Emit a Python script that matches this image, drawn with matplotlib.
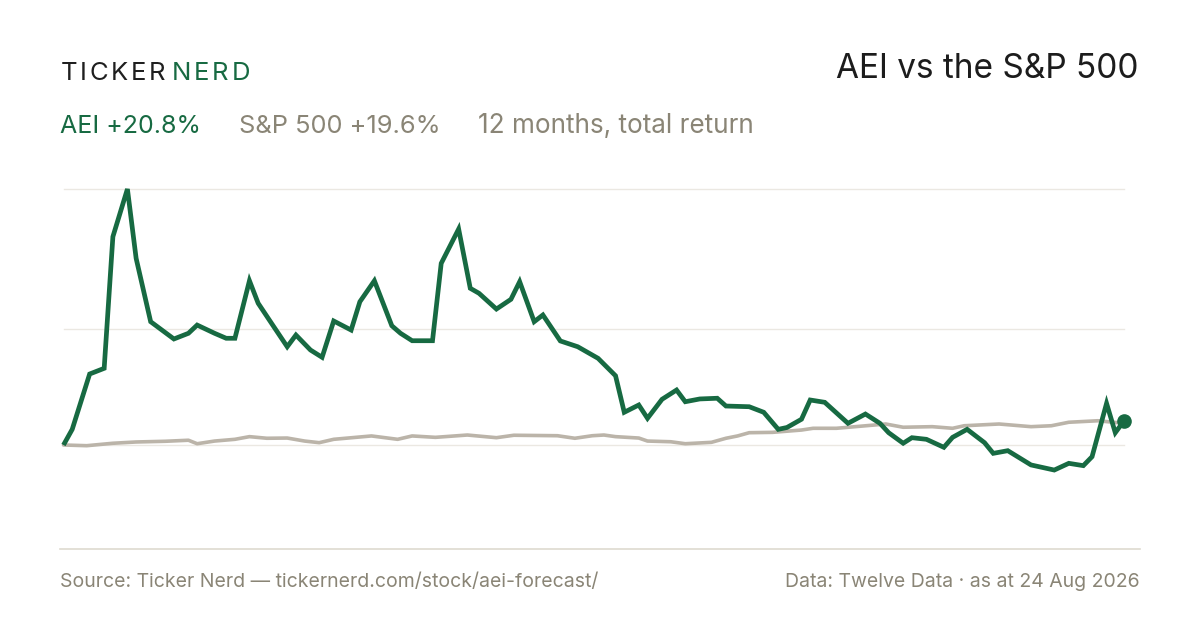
import matplotlib
matplotlib.use("Agg")
import matplotlib.pyplot as plt
from matplotlib.lines import Line2D

# AEI total return, % vs start (day offset within the 12 months)
aei_days = [0, 3, 9, 14, 17, 22, 25, 30, 38, 43, 46, 52, 56, 59, 64, 67, 72, 77, 80, 85,
            89, 93, 99, 102, 107, 113, 116, 120, 127, 130, 136, 140, 143, 149, 154, 157,
            162, 165, 171, 177, 184, 190, 193, 198, 201, 206, 211, 214, 219, 225, 228,
            236, 241, 246, 249, 254, 257, 262, 270, 276, 281, 284, 289, 292, 297, 303,
            306, 311, 317, 320, 325, 333, 341, 346, 351, 354, 359, 362, 365]
aei_ret = [0.0, 13.5, 61.2, 66.1, 179.6, 220.7, 160.9, 106.3, 91.4, 96.3, 103.4, 96.3,
           92.0, 92.0, 141.6, 122.2, 103.4, 84.7, 94.8, 81.9, 75.6, 106.9, 99.1, 123.5,
           141.6, 102.8, 96.3, 89.9, 89.9, 156.6, 186.2, 135.1, 130.8, 117.2, 125.6,
           140.8, 106.3, 112.1, 89.7, 84.7, 74.7, 59.7, 28.2, 34.5, 23.0, 39.4, 47.4,
           37.3, 39.7, 40.3, 33.6, 33.0, 28.2, 13.5, 15.1, 22.2, 38.8, 36.8, 18.7, 26.7,
           18.7, 10.6, 1.5, 6.3, 4.9, -2.0, 6.6, 13.5, 2.0, -7.2, -4.9, -17.2, -21.6,
           -15.8, -17.8, -10.1, 35.9, 10.6, 20.8]

# S&P 500 total return
spx_days = [0, 8, 17, 25, 35, 43, 46, 52, 59, 64, 70, 77, 83, 88, 93, 106, 115, 120, 128,
            139, 149, 155, 170, 176, 182, 186, 190, 198, 201, 209, 214, 223, 228, 232,
            236, 244, 254, 258, 266, 279, 283, 289, 299, 306, 310, 322, 333, 340, 346,
            356, 363, 365]
spx_ret = [0.0, -0.6, 1.5, 2.6, 3.2, 4.1, 1.1, 3.4, 4.9, 7.2, 5.8, 6.0, 3.4, 2.0, 4.9,
           7.8, 4.9, 7.8, 6.6, 8.6, 6.3, 8.4, 8.0, 5.8, 8.0, 8.6, 7.2, 6.0, 3.4, 2.8, 1.1,
           2.3, 5.8, 7.8, 10.6, 10.9, 12.9, 14.4, 14.4, 17.2, 18.1, 15.3, 15.8, 14.4,
           16.6, 18.1, 15.8, 16.6, 19.6, 20.9, 19.2, 19.6]

GREEN = "#176a42"
STONE = "#bbb4a9"
GREY_TXT = "#8a8576"
GRID = "#ebe8e2"
FONT = ["Inter", "DejaVu Sans"]

plt.rcParams["font.family"] = FONT

fig = plt.figure(figsize=(12, 6.3), dpi=100)
fig.patch.set_facecolor("white")

W, H = 1200, 630
ax = fig.add_axes([63.5 / W, (H - 548) / H, (1124 - 63.5) / W, (548 - 189) / H])
ax.set_xlim(0, 365)
ax.set_ylim(-88.8, max(aei_ret))
ax.axis("off")

for g in [0, 100, max(aei_ret)]:
    ax.axhline(g, color=GRID, lw=1.0, zorder=1, clip_on=False)

ax.plot(spx_days, spx_ret, color=STONE, lw=2.6, solid_joinstyle="round",
        solid_capstyle="round", zorder=2, clip_on=False)
ax.plot(aei_days, aei_ret, color=GREEN, lw=3.4, solid_joinstyle="miter",
        solid_capstyle="butt", zorder=3, clip_on=False)
ax.plot([aei_days[-1]], [aei_ret[-1]], "o", color=GREEN, ms=9.5, zorder=4, clip_on=False)

# bottom rule
fig.add_artist(Line2D([60 / W, 1140 / W], [(H - 548.5) / H] * 2, color="#dedad0", lw=1.2))

# letter-spaced wordmark
renderer = fig.canvas.get_renderer()
x = 60.5
for word, col in [("TICKER", "#1f1f1f"), ("NERD", GREEN)]:
    for ch in word:
        t = fig.text(x / W, 1 - 79.5 / H, ch, fontsize=18.5, color=col, ha="left",
                     va="baseline")
        x += t.get_window_extent(renderer).width + 2.7
    x += 4

fig.text(1138.5 / W, 1 - 78.5 / H, "AEI vs the S&P 500", fontsize=24, color="#1c1c1c",
         ha="right", va="baseline")

fig.text(60 / W, 1 - 133 / H, "AEI +20.8%", fontsize=18, color=GREEN, ha="left",
         va="baseline")
fig.text(239 / W, 1 - 133 / H, "S&P 500 +19.6%", fontsize=18.3, color=GREY_TXT,
         ha="left", va="baseline")
fig.text(478 / W, 1 - 133 / H, "12 months, total return", fontsize=18.8, color=GREY_TXT,
         ha="left", va="baseline")

fig.text(60 / W, 1 - 587 / H, "Source: Ticker Nerd \u2014 tickernerd.com/stock/aei-forecast/",
         fontsize=14, color=GREY_TXT, ha="left", va="baseline")
fig.text(1140 / W, 1 - 587 / H, "Data: Twelve Data \u00b7 as at 24 Aug 2026",
         fontsize=14, color=GREY_TXT, ha="right", va="baseline")

fig.savefig("out.png", dpi=100, facecolor="white")
